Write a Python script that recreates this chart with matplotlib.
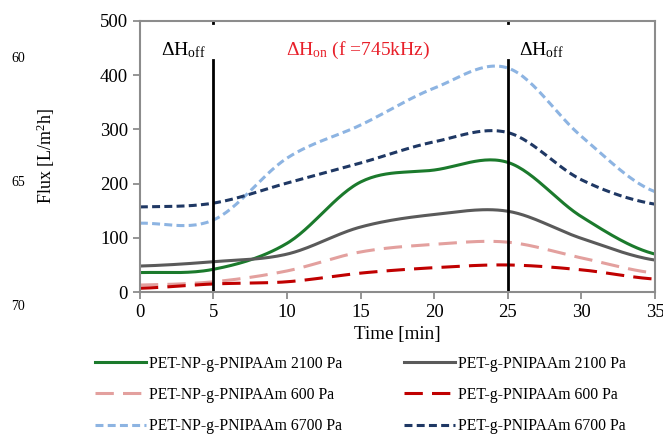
import numpy as np
import matplotlib.pyplot as plt

plt.rcParams['font.family'] = ['Liberation Serif', 'DejaVu Serif']
plt.rcParams['mathtext.fontset'] = 'custom'
plt.rcParams['mathtext.rm'] = 'Liberation Serif'
plt.rcParams['mathtext.it'] = 'Liberation Serif:italic'

# data (min, L/m2h)
time = [0, 5, 10, 15, 20, 25, 30, 35]
np_2100 = [36, 42, 90, 203, 225, 239, 139, 70]
g_2100 = [48, 56, 70, 120, 143, 149, 99, 59]
np_600 = [13, 19, 39, 74, 88, 92, 63, 35]
g_600 = [7, 15, 19, 35, 45, 50, 41, 24]
np_6700 = [127, 133, 247, 308, 376, 413, 287, 185]
g_6700 = [157, 164, 201, 238, 277, 294, 207, 162]

labels = ['PET-NP-g-PNIPAAm 2100 Pa', 'PET-g-PNIPAAm 2100 Pa',
          'PET-NP-g-PNIPAAm 600 Pa', 'PET-g-PNIPAAm 600 Pa',
          'PET-NP-g-PNIPAAm 6700 Pa', 'PET-g-PNIPAAm 6700 Pa']
series = [np_2100, g_2100, np_600, g_600, np_6700, g_6700]
colors = ['#1b7a2c', '#5a5a5a', '#e3a09e', '#c00000', '#8db4e2', '#1f3864']
dashes = [None, None, (6, 3), (6, 3), (2.6, 1.4), (2.6, 1.4)]


def smooth(x, y, n=30):
    # excel-like smoothed line (catmull-rom), only for drawing
    x = np.asarray(x, float)
    y = np.asarray(y, float)
    xs, ys = [], []
    for i in range(len(x) - 1):
        p0 = y[i - 1] if i > 0 else y[i]
        p3 = y[i + 2] if i + 2 < len(y) else y[i + 1]
        m0 = (y[i + 1] - p0) / 2
        m1 = (p3 - y[i]) / 2
        t = np.linspace(0, 1, n)
        h00 = 2*t**3 - 3*t**2 + 1
        h10 = t**3 - 2*t**2 + t
        h01 = -2*t**3 + 3*t**2
        h11 = t**3 - t**2
        xs.append(x[i] + t * (x[i + 1] - x[i]))
        ys.append(h00*y[i] + h10*m0 + h01*y[i + 1] + h11*m1)
    return np.concatenate(xs), np.concatenate(ys)


fig = plt.figure(figsize=(6.63, 4.34), dpi=100)
ax = fig.add_axes([0.211, 0.327, 0.777, 0.625])

handles = []
for ys, lab, c, d in zip(series, labels, colors, dashes):
    sx, sy = smooth(time, ys)
    line, = ax.plot(sx, sy, color=c, lw=2.2, label=lab)
    if d is not None:
        line.set_dashes(d)
    handles.append(line)

# field on/off markers
for xv in [5, 25]:
    ax.plot([xv, xv], [0, 428], color='black', lw=2)
    ax.plot([xv, xv], [496, 500], color='black', lw=2)

ax.text(2.96, 446, r'$\Delta$H$_{\rm off}$', fontsize=14, ha='center', va='center')
ax.text(27.3, 446, r'$\Delta$H$_{\rm off}$', fontsize=14, ha='center', va='center')
ax.text(14.8, 446, r'$\Delta$H$_{\rm on}$ (f =745kHz)', fontsize=14,
        ha='center', va='center', color='#e8202a')

ax.set_xlim(0, 35)
ax.set_ylim(0, 500)
ax.set_xticks(range(0, 36, 5))
ax.set_yticks(range(0, 501, 100))
ax.set_xlabel('Time [min]', fontsize=13.8, labelpad=4)
ax.set_ylabel('Flux [L/m$^2$h]', fontsize=13)
ax.yaxis.set_label_coords(-0.161, 0.5)
ax.tick_params(labelsize=13.5, color='#8c8c8c', length=5, width=1.3, direction='out')
for s in ax.spines.values():
    s.set_color('#8c8c8c')
    s.set_linewidth(1.5)

# legend is filled column by column, so reorder to read row by row
order = [0, 2, 4, 1, 3, 5]
fig.legend(handles=[handles[i] for i in order], loc='upper left',
           bbox_to_anchor=(0.134, 0.195), ncol=2, frameon=False,
           fontsize=11.3, handlelength=3.25, handletextpad=0.2,
           columnspacing=3.9, labelspacing=0.97, borderaxespad=0)

# manuscript line numbers
for yy, num in [(58, '60'), (182, '65'), (307, '70')]:
    fig.text(18 / 663, 1 - yy / 434, num, fontsize=10, ha='center', va='center')

fig.savefig('out.png', dpi=100)
